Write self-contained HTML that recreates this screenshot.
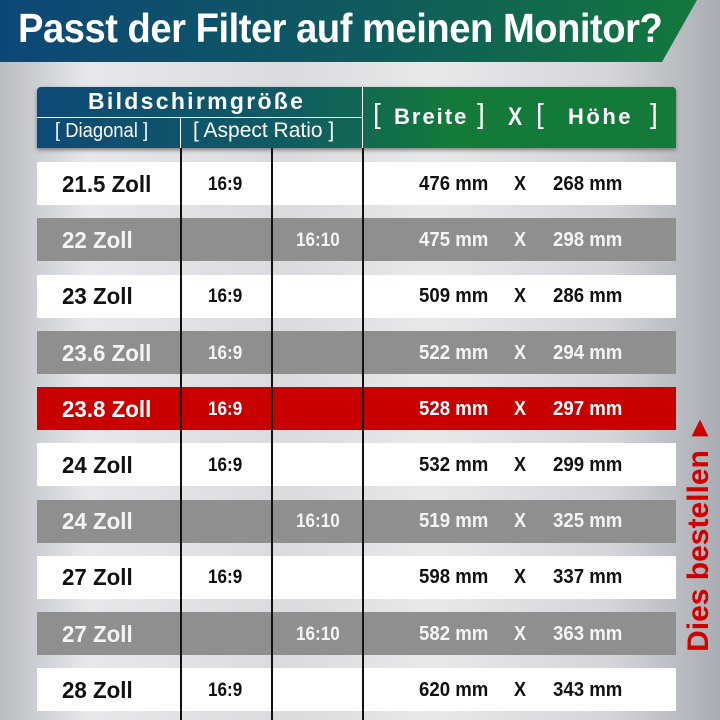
<!DOCTYPE html>
<html><head><meta charset="utf-8"><style>
*{margin:0;padding:0;box-sizing:border-box}
body{width:720px;height:720px;overflow:hidden;position:relative;font-family:"Liberation Sans","DejaVu Sans",sans-serif;
background:linear-gradient(90deg,#b9bcc1 0%,#e6e8eb 12%,#d9dbde 40%,#e8e9eb 60%,#d3d5d9 85%,#a9adb3 100%);}
.t{position:absolute;white-space:nowrap;font-weight:bold;transform-origin:left center}
.row{position:absolute;left:37px;width:639px;height:43px}
.w{background:#fff;color:#111}.g{background:#8f8f8f;color:#f2f2f2}.r{background:#c80000;color:#fff}
.vl{position:absolute;width:1.5px;background:#111;top:148px;height:572px}
</style></head><body>
<div style="position:absolute;left:0;top:0;width:720px;height:62px;background:linear-gradient(90deg,#0d4777 0%,#0f5a5e 50%,#137a3a 100%);clip-path:polygon(0 0,697px 0,662px 62px,0 62px);box-shadow:0 3px 4px #666"></div>
<div class="t" style="left:18px;top:5px;font-size:41px;color:#fff;transform:scaleX(0.93);letter-spacing:-0.5px">Passt der Filter auf meinen Monitor?</div>
<div style="position:absolute;left:37px;top:87px;width:639px;height:61px;border-radius:4px 4px 0 0;background:linear-gradient(90deg,#0e4a78 0%,#0f5c62 40%,#137a3a 65%,#147a3a 100%);box-shadow:0 2px 4px #777"></div>
<div style="position:absolute;left:37px;top:117px;width:326px;height:1px;background:#fff"></div>
<div style="position:absolute;left:180px;top:118px;width:1px;height:30px;background:#fff"></div>
<div style="position:absolute;left:362px;top:87px;width:1px;height:61px;background:#fff"></div>
<div class="t" style="left:88px;top:88px;font-size:23px;color:#fff;letter-spacing:2.3px">Bildschirmgröße</div>
<div class="t" style="left:55px;top:120px;font-size:20px;color:#fff;font-weight:normal;transform:scaleX(0.92)">[ Diagonal ]</div>
<div class="t" style="left:193px;top:119px;font-size:21px;color:#fff;font-weight:normal;transform:scaleX(1.0)">[ Aspect Ratio ]</div>
<div class="t" style="left:373px;top:98px;font-size:28px;color:#fff;font-weight:normal">[</div>
<div class="t" style="left:394px;top:104px;font-size:22px;color:#fff;letter-spacing:2px">Breite</div>
<div class="t" style="left:477px;top:98px;font-size:28px;color:#fff;font-weight:normal">]</div>
<div class="t" style="left:508px;top:103px;font-size:25px;color:#fff;transform:scaleX(0.85)">X</div>
<div class="t" style="left:536px;top:98px;font-size:28px;color:#fff;font-weight:normal">[</div>
<div class="t" style="left:568px;top:104px;font-size:22px;color:#fff;letter-spacing:2.5px">Höhe</div>
<div class="t" style="left:650px;top:98px;font-size:28px;color:#fff;font-weight:normal">]</div>

<div class="row w" style="top:162px"></div>
<div class="row g" style="top:218px"></div>
<div class="row w" style="top:275px"></div>
<div class="row g" style="top:331px"></div>
<div class="row r" style="top:387px"></div>
<div class="row w" style="top:443px"></div>
<div class="row g" style="top:500px"></div>
<div class="row w" style="top:556px"></div>
<div class="row g" style="top:612px"></div>
<div class="row w" style="top:668px"></div>
<div class="vl" style="left:180px"></div>
<div class="vl" style="left:271px"></div>
<div class="vl" style="left:362px"></div>

<div id="rows"></div>
<script>
var d=[["21.5 Zoll","16:9","","476 mm","268 mm","#111"],["22 Zoll","","16:10","475 mm","298 mm","#f4f4f4"],["23 Zoll","16:9","","509 mm","286 mm","#111"],["23.6 Zoll","16:9","","522 mm","294 mm","#f4f4f4"],["23.8 Zoll","16:9","","528 mm","297 mm","#fff"],["24 Zoll","16:9","","532 mm","299 mm","#111"],["24 Zoll","","16:10","519 mm","325 mm","#f4f4f4"],["27 Zoll","16:9","","598 mm","337 mm","#111"],["27 Zoll","","16:10","582 mm","363 mm","#f4f4f4"],["28 Zoll","16:9","","620 mm","343 mm","#111"]];
var h="";
d.forEach(function(r,i){var y=Math.round(162+i*56.2)+10;var c=r[5];
h+='<div class="t" style="left:62px;top:'+(y-1)+'px;font-size:23px;color:'+c+';transform:scaleX(0.97)">'+r[0]+'</div>';
if(r[1])h+='<div class="t" style="left:208px;top:'+(y+2)+'px;font-size:19px;color:'+c+';transform:scaleX(0.9)">'+r[1]+'</div>';
if(r[2])h+='<div class="t" style="left:296px;top:'+(y+2)+'px;font-size:19px;color:'+c+';transform:scaleX(0.9)">'+r[2]+'</div>';
h+='<div class="t" style="left:419px;top:'+(y+1)+'px;font-size:20px;color:'+c+';transform:scaleX(0.93)">'+r[3]+'</div>';
h+='<div class="t" style="left:514px;top:'+(y+1)+'px;font-size:20px;color:'+c+';transform:scaleX(0.9)">X</div>';
h+='<div class="t" style="left:553px;top:'+(y+1)+'px;font-size:20px;color:'+c+';transform:scaleX(0.93)">'+r[4]+'</div>';});
document.getElementById("rows").innerHTML=h;
</script>
<div style="position:absolute;left:699px;top:533px;transform:translate(-50%,-50%) rotate(-90deg);white-space:nowrap;font-weight:bold;font-size:30px;color:#d00000;">Dies bestellen <span style="font-size:28px">&#9658;</span></div>
</body></html>
